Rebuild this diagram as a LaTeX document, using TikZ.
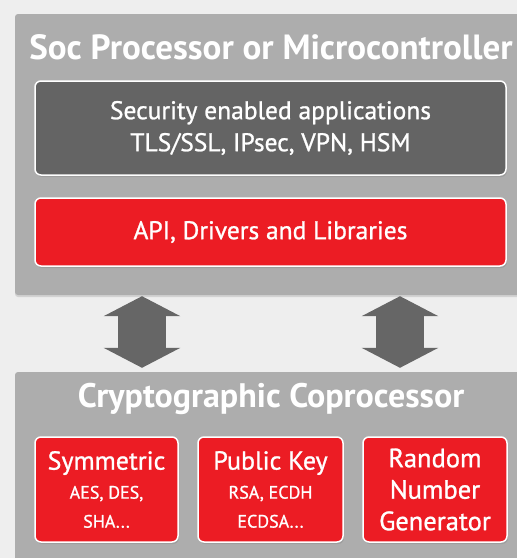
\documentclass[tikz,border=0pt]{standalone}
\usepackage{fontspec}
\setmainfont{PT Sans}
\newfontfamily\boxfont{PT Sans}[FakeBold=1]
\usetikzlibrary{arrows.meta,shadows}

\definecolor{bggray}{HTML}{EEEEEE}
\definecolor{panelgray}{HTML}{ADADAD}
\definecolor{darkbox}{HTML}{646464}
\definecolor{redbox}{HTML}{EC1C24}
\definecolor{arrowgray}{HTML}{666666}

\newcommand{\smalltext}{\fontsize{18}{26}\selectfont}

\begin{document}
\begin{tikzpicture}[x=1pt, y=-1pt,
    panel/.style={fill=panelgray, rounded corners=3pt, minimum width=512pt,
        drop shadow={opacity=0.25, shadow xshift=0pt, shadow yshift=-2pt}},
    block/.style={draw=white, line width=1.5pt, rounded corners=6pt, text=white,
        align=center, inner sep=0pt,
        drop shadow={opacity=0.35, shadow xshift=1pt, shadow yshift=-2pt}},
    heading/.style={text=white, font=\bfseries},
    link/.style={arrowgray, line width=48pt,
        {Triangle[width=76pt,length=20pt]}-{Triangle[width=76pt,length=20pt]}}
]

% Background and frame
\useasboundingbox[fill=bggray] (0,0) rectangle (517,558);
\clip (0,0) rectangle (517,558);

% Upper panel: processor
\node[panel, minimum height=281pt] (soc) at (271,154.5) {};
\node[heading, font=\bfseries\fontsize{35}{40}\selectfont] (socname) at (271,47) {Soc Processor or Microcontroller};
\node[block, fill=darkbox, minimum width=471pt, minimum height=94pt,
    font=\boxfont\fontsize{25.5}{32}\selectfont] (apps) at (270.5,128)
    {Security enabled applications\\TLS/SSL, IPsec, VPN, HSM};
\node[block, fill=redbox, minimum width=471pt, minimum height=68pt,
    font=\boxfont\fontsize{25.5}{30}\selectfont] (api) at (270.5,232) {API, Drivers and Libraries};

% Lower panel: coprocessor
\node[panel, minimum height=208pt] (crypto) at (271,476) {};
\node[heading, font=\bfseries\fontsize{34}{38}\selectfont] (cryptoname) at (271,399) {Cryptographic Coprocessor};
\node[block, fill=redbox, minimum width=143pt, minimum height=105pt,
    font=\boxfont\fontsize{26}{29}\selectfont] (sym) at (106.5,489.5)
    {Symmetric\\\smalltext AES, DES,\\\smalltext SHA...};
\node[block, fill=redbox, minimum width=145pt, minimum height=105pt,
    font=\boxfont\fontsize{26}{29}\selectfont] (pubkey) at (270.5,489.5)
    {Public Key\\\smalltext RSA, ECDH\\\smalltext ECDSA...};
\node[block, fill=redbox, minimum width=144pt, minimum height=105pt,
    font=\boxfont\fontsize{26.5}{31.5}\selectfont] (rng) at (435,489.5) {Random\\Number\\Generator};

% Bidirectional links between the panels
\coordinate (leftlink) at (142,0);
\coordinate (rightlink) at (400,0);
\draw[link, shorten <=1pt, shorten >=4pt] (soc.south -| leftlink) -- (crypto.north -| leftlink);
\draw[link, shorten <=1pt, shorten >=4pt] (soc.south -| rightlink) -- (crypto.north -| rightlink);

\end{tikzpicture}
\end{document}
